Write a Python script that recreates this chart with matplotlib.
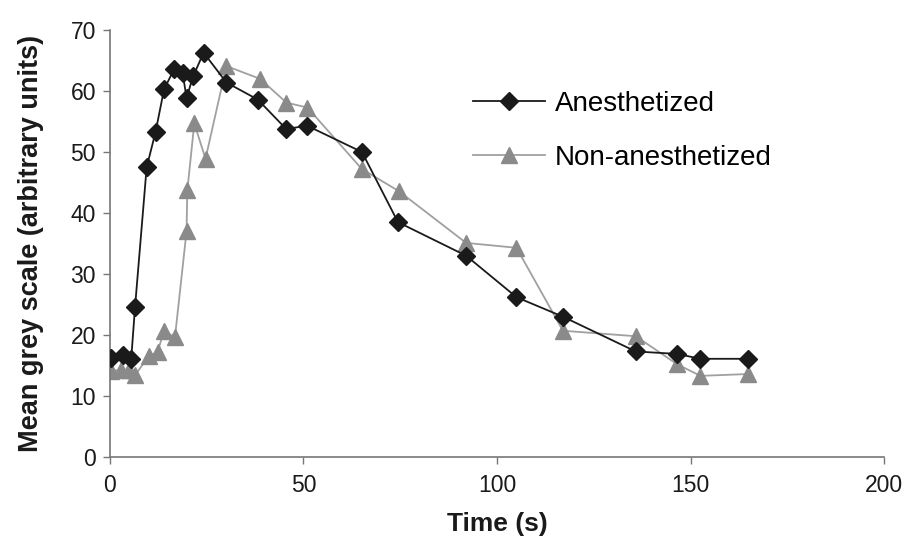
import matplotlib
matplotlib.use("Agg")
import matplotlib.pyplot as plt

plt.rcParams['font.family'] = ['Liberation Sans', 'DejaVu Sans']

# Anesthetized series
anes_time = [0.3, 3.5, 5.5, 6.5, 9.5, 11.8, 14.0, 16.6, 18.8, 19.8, 21.5, 24.2,
             30.1, 38.2, 45.5, 51.0, 65.1, 74.4, 92.0, 105.0, 117.0, 135.8,
             146.5, 152.5, 164.7]
anes_val = [16.3, 16.8, 16.0, 24.6, 47.5, 53.3, 60.3, 63.6, 62.9, 58.9, 62.4, 66.3,
            61.4, 58.6, 53.8, 54.3, 50.0, 38.5, 33.0, 26.2, 23.0, 17.3,
            16.9, 16.1, 16.1]

# Non-anesthetized series
non_time = [0.3, 3.0, 5.0, 6.5, 10.0, 12.3, 14.0, 16.8, 19.8, 20.0, 21.8, 24.7,
            30.1, 38.8, 45.6, 51.0, 65.1, 74.6, 92.0, 105.0, 117.0, 135.8,
            146.5, 152.5, 164.7]
non_val = [14.1, 14.3, 14.2, 13.4, 16.5, 17.2, 20.7, 19.6, 37.0, 43.7, 54.7, 48.9,
           64.1, 62.0, 58.1, 57.3, 47.2, 43.6, 35.1, 34.3, 20.7, 19.8,
           15.2, 13.3, 13.6]

x_ticks = [0, 50, 100, 150, 200]
y_ticks = [0, 10, 20, 30, 40, 50, 60, 70]

fig = plt.figure(figsize=(9.08, 5.37), dpi=100)
ax = fig.add_axes([0.121, 0.149, 0.853, 0.795])

ax.plot(non_time, non_val, color='#a0a0a0', lw=1.3, marker='^', ms=11.5,
        mfc='#8a8a8a', mec='#8a8a8a', label='Non-anesthetized', zorder=2)
ax.plot(anes_time, anes_val, color='#1a1a1a', lw=1.3, marker='D', ms=9.5,
        mfc='#1a1a1a', mec='#1a1a1a', label='Anesthetized', zorder=3)

ax.set_xlim(0, 200)
ax.set_ylim(0, 70)
ax.set_xticks(x_ticks)
ax.set_yticks(y_ticks)
for s in ['top', 'right']:
    ax.spines[s].set_visible(False)
for s in ['left', 'bottom']:
    ax.spines[s].set_color('#777777')
    ax.spines[s].set_linewidth(1.2)
ax.tick_params(axis='both', colors='#777777', labelcolor='#1a1a1a',
               labelsize=16.5, length=5, width=1.0, direction='out')
ax.tick_params(axis='x', pad=7)
ax.tick_params(axis='y', pad=5)

ax.set_xlabel('Time (s)', fontsize=19, fontweight='bold', color='#1a1a1a', labelpad=11)
ax.set_ylabel('Mean grey scale (arbitrary units)', fontsize=19.5, fontweight='bold',
              color='#1a1a1a', labelpad=19)

handles, labels = ax.get_legend_handles_labels()
leg = ax.legend(handles[::-1], labels[::-1], loc='upper left',
                bbox_to_anchor=(473 / 908, 1 - 91 / 537),
                bbox_transform=fig.transFigure, frameon=False, fontsize=20,
                borderaxespad=0, borderpad=0,
                handlelength=2.6, handletextpad=0.35, labelspacing=1.0)

fig.savefig('out.png', dpi=100)
